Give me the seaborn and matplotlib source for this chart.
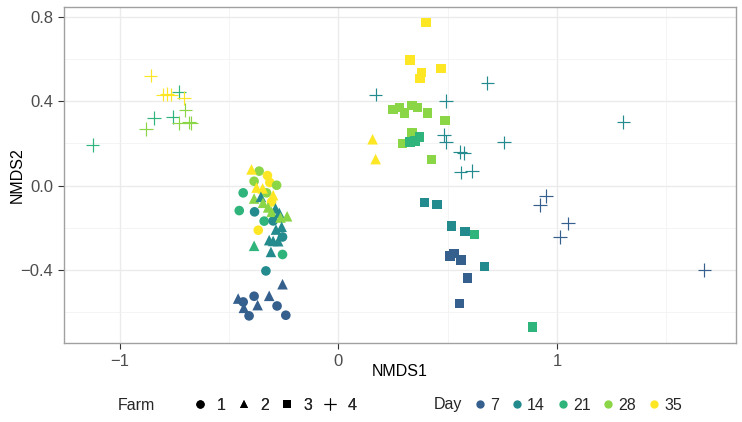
import matplotlib
matplotlib.use("Agg")
import matplotlib.pyplot as plt
from matplotlib.lines import Line2D
from matplotlib.ticker import MultipleLocator
import seaborn as sns
import pandas as pd
import numpy as np

# ---------------- data ----------------
farm4_x = [-0.860, -0.805, -0.785, -0.765, -0.730, -0.707, -0.700, -0.843, -0.759, -0.729,
           -0.685, -0.675, -0.881, -1.125,
           0.170, 0.681, 0.493, 0.482, 0.492, 0.556, 0.575, 0.757, 0.559, 0.612, 1.303,
           0.922, 0.949, 1.050, 1.013, 1.674]
farm4_y = [0.522, 0.432, 0.435, 0.432, 0.445, 0.416, 0.358, 0.321, 0.326, 0.298,
           0.300, 0.298, 0.269, 0.192,
           0.432, 0.486, 0.402, 0.239, 0.208, 0.160, 0.155, 0.205, 0.063, 0.070, 0.302,
           -0.092, -0.050, -0.179, -0.243, -0.400]
farm4_day = [35, 35, 35, 35, 21, 35, 28, 21, 21, 28,
             28, 28, 28, 21,
             14, 14, 14, 14, 14, 14, 14, 14, 14, 14, 14,
             7, 7, 7, 7, 7]

farm3_x = [0.400, 0.328, 0.469, 0.379, 0.373,
           0.250, 0.278, 0.301, 0.337, 0.362, 0.406, 0.488, 0.337, 0.292, 0.426,
           0.327, 0.350, 0.371,
           0.394, 0.450, 0.518, 0.578, 0.667, 0.623, 0.887,
           0.510, 0.528, 0.560, 0.591, 0.553]
farm3_y = [0.773, 0.595, 0.555, 0.537, 0.508,
           0.361, 0.371, 0.345, 0.381, 0.371, 0.345, 0.309, 0.250, 0.200, 0.124,
           0.208, 0.211, 0.231,
           -0.080, -0.089, -0.192, -0.216, -0.382, -0.231, -0.669,
           -0.334, -0.321, -0.353, -0.437, -0.558]
farm3_day = [35, 35, 35, 35, 35,
             28, 28, 28, 28, 28, 28, 28, 28, 28, 28,
             21, 21, 21,
             14, 14, 14, 14, 14, 21, 21,
             7, 7, 7, 7, 7]

farm2_x = [0.156, 0.170, -0.398, -0.375, -0.347, -0.299, -0.386, -0.355, -0.345, -0.322,
           -0.288, -0.306, -0.271, -0.265, -0.235, -0.260, -0.286, -0.317, -0.299, -0.276,
           -0.386, -0.309, -0.256, -0.459, -0.317, -0.370, -0.433]
farm2_y = [0.220, 0.126, 0.077, -0.009, -0.013, -0.045, -0.061, -0.053, -0.081, -0.103,
           -0.108, -0.124, -0.129, -0.151, -0.145, -0.195, -0.208, -0.258, -0.262, -0.263,
           -0.285, -0.314, -0.467, -0.535, -0.522, -0.566, -0.579]
farm2_day = [35, 35, 35, 35, 35, 35, 28, 14, 28, 28,
             14, 28, 14, 28, 28, 14, 14, 14, 14, 14,
             21, 14, 7, 7, 7, 7, 7]

farm1_x = [-0.363, -0.325, -0.386, -0.314, -0.283, -0.329, -0.436, -0.306, -0.454, -0.384,
           -0.340, -0.299, -0.367, -0.256, -0.256, -0.332, -0.386, -0.436, -0.281, -0.409,
           -0.241]
farm1_y = [0.069, 0.048, 0.021, 0.015, 0.002, -0.034, -0.034, -0.077, -0.118, -0.124,
           -0.168, -0.167, -0.211, -0.243, -0.326, -0.404, -0.524, -0.551, -0.570, -0.617,
           -0.614]
farm1_day = [28, 35, 28, 35, 28, 28, 21, 35, 21, 14,
             21, 14, 35, 14, 21, 14, 7, 7, 7, 7,
             7]

farms = [1, 2, 3, 4]
days = [7, 14, 21, 28, 35]
x_ticks = [-1, 0, 1]
y_ticks = [-0.4, 0.0, 0.4, 0.8]
y_tick_labels = ["\u22120.4", "0.0", "0.4", "0.8"]
x_tick_labels = ["\u22121", "0", "1"]

frames = []
for f, xs, ys, ds in [(1, farm1_x, farm1_y, farm1_day), (2, farm2_x, farm2_y, farm2_day),
                      (3, farm3_x, farm3_y, farm3_day), (4, farm4_x, farm4_y, farm4_day)]:
    frames.append(pd.DataFrame({"NMDS1": xs, "NMDS2": ys, "Day": ds, "Farm": f}))
df = pd.concat(frames, ignore_index=True)

# ---------------- style ----------------
sns.set_theme(style="white")
plt.rcParams["font.family"] = ["Liberation Sans", "DejaVu Sans"]

cmap = matplotlib.colormaps["viridis"]
pal = {d: cmap(p) for d, p in zip(days, [0.30, 0.475, 0.65, 0.825, 1.0])}
markers = {1: "o", 2: "^", 3: "s", 4: "+"}
sizes = {1: 48, 2: 58, 3: 46, 4: 95}

fig = plt.figure(figsize=(7.42, 4.22), dpi=100)
ax = fig.add_axes([0.0856, 0.187, 0.9064, 0.796])

for f in farms:
    sub = df[df["Farm"] == f]
    kw = dict(linewidth=0) if f != 4 else dict(linewidth=0.85)
    sns.scatterplot(data=sub, x="NMDS1", y="NMDS2", hue="Day", palette=pal,
                    marker=markers[f], s=sizes[f], legend=False, ax=ax, zorder=3, **kw)

ax.set_xlim(-1.258, 1.819)
ax.set_ylim(-0.746, 0.846)
ax.set_xticks(x_ticks)
ax.set_xticklabels(x_tick_labels)
ax.set_yticks(y_ticks)
ax.set_yticklabels(y_tick_labels)
ax.xaxis.set_minor_locator(MultipleLocator(0.5))
ax.yaxis.set_minor_locator(MultipleLocator(0.2))
ax.grid(True, which="major", color="#EBEBEB", linewidth=1.0, zorder=0)
ax.grid(True, which="minor", color="#F2F2F2", linewidth=0.6, zorder=0)
ax.set_axisbelow(True)
for sp in ax.spines.values():
    sp.set_color("#A0A0A0")
    sp.set_linewidth(1.0)
ax.tick_params(axis="both", which="major", length=4, width=0.8, color="#333333",
               labelsize=12, labelcolor="#4D4D4D", pad=3.5, bottom=True, left=True)
ax.tick_params(axis="both", which="minor", length=0)
ax.set_xlabel("NMDS1", fontsize=11.5, color="black")
ax.set_ylabel("NMDS2", fontsize=11.5, color="black")
ax.xaxis.set_label_coords(0.5, -0.062)
ax.yaxis.set_label_coords(-0.058, 0.5)

# ---------------- legends ----------------
fig.text(118 / 742, 1 - 405 / 422, "Farm", fontsize=11.5, va="center", ha="left")
fig.text(434 / 742, 1 - 405 / 422, "Day", fontsize=11.5, va="center", ha="left")

farm_handles = [Line2D([], [], linestyle="none", marker=markers[f], color="black",
                       markersize=6 if f != 4 else 9, markeredgewidth=0 if f != 4 else 0.8)
                for f in farms]
leg1 = fig.legend(farm_handles, [str(f) for f in farms], loc="center left",
                  bbox_to_anchor=(192 / 742, 1 - 405 / 422), ncol=4, frameon=False,
                  fontsize=11.5, handlelength=1.0, handletextpad=0.55, columnspacing=0.62,
                  borderaxespad=0, borderpad=0)
day_handles = [Line2D([], [], linestyle="none", marker="o", color=pal[d], markersize=6,
                      markeredgewidth=0) for d in days]
leg2 = fig.legend(day_handles, [str(d) for d in days], loc="center left",
                  bbox_to_anchor=(472 / 742, 1 - 405 / 422), ncol=5, frameon=False,
                  fontsize=11.5, handlelength=1.0, handletextpad=0.15, columnspacing=0.6,
                  borderaxespad=0, borderpad=0)
fig.add_artist(leg1)

fig.savefig("out.png", dpi=100)
